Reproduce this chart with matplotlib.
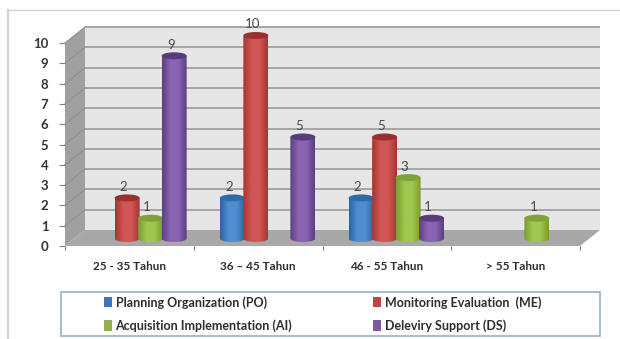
import numpy as np
import matplotlib
matplotlib.use("Agg")
import matplotlib.pyplot as plt
from matplotlib.patches import Polygon, PathPatch, Ellipse, Rectangle, Patch
from matplotlib.path import Path
from matplotlib.colors import LinearSegmentedColormap
from matplotlib.lines import Line2D

categories = ["25 - 35 Tahun", "36 – 45 Tahun", "46 - 55 Tahun", "> 55 Tahun"]
series_names = ["Planning Organization (PO)", "Monitoring Evaluation  (ME)",
                "Acquisition Implementation (AI)", "Deleviry Support (DS)"]
po_values = [0, 2, 2, 0]
me_values = [2, 10, 5, 0]
ai_values = [1, 0, 3, 1]
ds_values = [9, 5, 1, 0]
y_ticks = list(range(0, 11))

series_values = [po_values, me_values, ai_values, ds_values]
edge_colors = ["#2c659f", "#a23634", "#7b9c2e", "#5c3f80"]
mid_colors = ["#4f8dd2", "#d25654", "#a0c64e", "#8a63b3"]
cap_colors = ["#2f6aaa", "#9a2f2d", "#7ea238", "#573b7c"]
swatch_colors = ["#3f76b8", "#bd4543", "#92b04d", "#7a5c9e"]

W, H = 620, 339
FONT = "Lato"
plt.rcParams["font.family"] = [FONT, "DejaVu Sans"]

fig = plt.figure(figsize=(W / 100, H / 100), dpi=100, facecolor="white")

# The axes span the front edge of the 3D box, in figure pixels
LEFT, RIGHT, BASE, TOP = 65, 580, 246, 43
ax = fig.add_axes([LEFT / W, 1 - BASE / H, (RIGHT - LEFT) / W, (BASE - TOP) / H])
ax.patch.set_visible(False)
for s in ax.spines.values():
    s.set_visible(False)

px_x = 4 / (RIGHT - LEFT)
px_y = 10 / (BASE - TOP)
depth_x, depth_y = 20 * px_x, 16 * px_y

# Walls and floor
ax.add_patch(Polygon([(depth_x, depth_y), (4 + depth_x, depth_y),
                      (4 + depth_x, 10 + depth_y), (depth_x, 10 + depth_y)],
                     fc="#e6e6e6", ec="none", zorder=1, clip_on=False))
ax.add_patch(Polygon([(0, 0), (depth_x, depth_y), (depth_x, 10 + depth_y), (0, 10)],
                     fc="#a0a0a0", ec="none", zorder=1, clip_on=False))
ax.add_patch(Polygon([(0, 0), (4, 0), (4 + depth_x, depth_y), (depth_x, depth_y)],
                     fc="#a8a8a8", ec="none", zorder=2, clip_on=False))
for v in y_ticks[1:]:
    ax.plot([depth_x, 4 + depth_x], [v + depth_y, v + depth_y], color="#a6a6a6",
            lw=1.4, zorder=1.5, clip_on=False, solid_capstyle="butt")
    ax.plot([0, depth_x], [v, v + depth_y], color="#8f8f8f",
            lw=0.8, zorder=1.5, clip_on=False)

# Cylinders
slot_w = 23.5 * px_x
bar_w = 25 * px_x
cap_h = 7 * px_y
bar_dx = 9.5 * px_x
bar_base = 7.5 * px_y
theta = np.linspace(np.pi, 2 * np.pi, 40)

for s, vals in enumerate(series_values):
    cmap = LinearSegmentedColormap.from_list(
        f"cyl{s}", [edge_colors[s], mid_colors[s], mid_colors[s], edge_colors[s]])
    for c, v in enumerate(vals):
        if v == 0:
            continue
        xc = c + 0.5 + bar_dx + (s - 1.5) * slot_w
        y0, y1 = bar_base, bar_base + v
        z = 5 + s + 0.1 * c
        arc_x = xc + bar_w / 2 * np.cos(theta)
        arc_y = y0 + cap_h / 2 * np.sin(theta)
        verts = list(zip(arc_x, arc_y)) + [(xc + bar_w / 2, y1), (xc - bar_w / 2, y1)]
        outline = PathPatch(Path(verts + [verts[0]], closed=True), fc="none", ec="none",
                            transform=ax.transData, clip_on=False)
        ax.add_patch(outline)
        im = ax.imshow(np.linspace(0, 1, 64).reshape(1, -1), cmap=cmap, aspect="auto",
                       extent=(xc - bar_w / 2, xc + bar_w / 2, y0 - cap_h, y1),
                       zorder=z)
        im.set_clip_box(fig.bbox)
        im.set_clip_path(outline)
        ax.add_patch(Ellipse((xc, y1), bar_w, cap_h, fc=cap_colors[s], ec="none",
                             zorder=z + 0.05, clip_on=False))
        ax.text(xc - 3.5 * px_x, y1 + 11 * px_y, str(v), ha="center", va="center",
                fontsize=9.5, color="#4a4a4a", zorder=20, clip_on=False)

ax.set_xlim(0, 4)
ax.set_ylim(0, 10)

# Axes ticks and labels
ax.set_xticks(range(5))
ax.set_xticklabels([])
ax.tick_params(axis="x", length=3, width=0.8, color="#808080", direction="out")
ax.set_yticks(y_ticks)
ax.set_yticklabels([str(t) for t in y_ticks], fontsize=9.5, fontweight="bold", color="#333333")
ax.tick_params(axis="y", length=4, width=0.8, color="#808080", pad=8, direction="out")
for c, label in enumerate(categories):
    ax.text(c + 0.5, -21 * px_y, label, ha="center", va="center", fontsize=8.5,
            fontweight="bold", color="#2e2e2e", clip_on=False)

# Outer chart frame
fig.add_artist(Line2D([8 / W, 1], [1 - 9.5 / H, 1 - 9.5 / H], color="#d2d2d2", lw=1))
fig.add_artist(Line2D([8 / W, 8 / W], [0, 1 - 9.5 / H], color="#d2d2d2", lw=1.6))

# Legend box with two rows of entries
fig.add_artist(Rectangle((60.5 / W, 1 - 336 / H), 539.5 / W, 44 / H, fc="white",
                         ec="#9db6d0", lw=1.3, transform=fig.transFigure))
order = [0, 2, 1, 3]
handles = [Patch(fc=swatch_colors[i], ec="none") for i in order]
legend = fig.legend(handles, [series_names[i] for i in order], ncol=2, frameon=False,
                    loc="upper left", bbox_to_anchor=(104 / W, 1 - 296 / H),
                    bbox_transform=fig.transFigure, borderpad=0, borderaxespad=0,
                    handlelength=0.6, handleheight=0.9, handletextpad=0.32,
                    labelspacing=0.85, columnspacing=6.48,
                    prop={"family": FONT, "weight": "bold", "size": 9.0})
for t in legend.get_texts():
    t.set_color("#2e2e2e")

fig.savefig("out.png", dpi=100, facecolor="white")
